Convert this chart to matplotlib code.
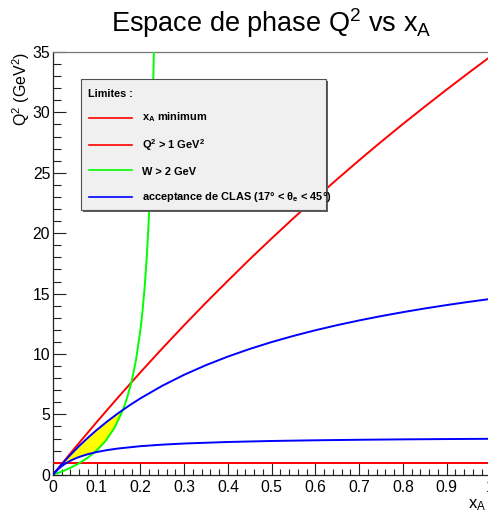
import numpy as np
import matplotlib
matplotlib.use("Agg")
import matplotlib.pyplot as plt
from matplotlib.patches import Rectangle
from matplotlib.lines import Line2D

plt.rcParams['font.family'] = ['Liberation Sans', 'DejaVu Sans']
plt.rcParams['mathtext.fontset'] = 'custom'
plt.rcParams['mathtext.rm'] = 'Liberation Sans'
plt.rcParams['mathtext.bf'] = 'Liberation Sans:bold'
plt.rcParams['mathtext.default'] = 'regular'

# ---- data ----
# x_A minimum (red)
xmin_x = [0, 0.01, 0.02, 0.05, 0.10, 0.15, 0.20, 0.25, 0.30, 0.35, 0.40, 0.45, 0.50,
          0.55, 0.60, 0.65, 0.70, 0.75, 0.80, 0.85, 0.90, 0.95, 1.00]
xmin_q2 = [0, 0.45, 0.90, 2.22, 4.37, 6.46, 8.49, 10.47, 12.39, 14.26, 16.07, 17.85, 19.57,
           21.25, 22.89, 24.48, 26.04, 27.56, 29.04, 30.48, 31.89, 33.27, 34.62]
# Q2 > 1 GeV2 (red horizontal)
q2cut_x = [0, 1.0]
q2cut_q2 = [1.0, 1.0]
# W > 2 GeV (green)
w_x = [0, 0.02, 0.04, 0.06, 0.08, 0.10, 0.12, 0.14, 0.16, 0.17, 0.18, 0.19, 0.20,
       0.205, 0.21, 0.215, 0.22, 0.225, 0.23, 0.2306]
w_q2 = [0, 0.264, 0.579, 0.960, 1.43, 2.02, 2.80, 3.86, 5.38, 6.44, 7.77, 9.55, 12.03,
        13.68, 15.74, 18.37, 21.86, 26.70, 33.89, 35.0]
# CLAS acceptance, theta = 45 deg (blue upper)
hi_x = [0, 0.005, 0.01, 0.02, 0.03, 0.04, 0.06, 0.08, 0.10, 0.125, 0.15, 0.175, 0.20,
        0.25, 0.30, 0.35, 0.40, 0.45, 0.50, 0.55, 0.60, 0.65, 0.70, 0.75, 0.80, 0.85,
        0.90, 0.95, 1.00]
hi_q2 = [0, 0.222, 0.439, 0.861, 1.266, 1.655, 2.391, 3.074, 3.711, 4.447, 5.125, 5.752,
         6.332, 7.373, 8.282, 9.081, 9.789, 10.421, 10.989, 11.501, 11.967, 12.391,
         12.779, 13.136, 13.465, 13.769, 14.051, 14.313, 14.558]
# CLAS acceptance, theta = 17 deg (blue lower)
lo_x = [0, 0.005, 0.01, 0.02, 0.03, 0.04, 0.05, 0.06, 0.08, 0.10, 0.125, 0.15, 0.20,
        0.25, 0.30, 0.40, 0.50, 0.60, 0.70, 0.80, 0.90, 1.00]
lo_q2 = [0, 0.215, 0.403, 0.716, 0.965, 1.169, 1.339, 1.482, 1.711, 1.885, 2.053, 2.182,
         2.369, 2.497, 2.590, 2.717, 2.800, 2.857, 2.900, 2.933, 2.959, 2.980]

xticks = [0, 0.1, 0.2, 0.3, 0.4, 0.5, 0.6, 0.7, 0.8, 0.9, 1.0]
xtick_labels = ["0", "0.1", "0.2", "0.3", "0.4", "0.5", "0.6", "0.7", "0.8", "0.9", "1"]
yticks = [0, 5, 10, 15, 20, 25, 30, 35]
ytick_labels = ["0", "5", "10", "15", "20", "25", "30", "35"]

legend_labels = ["x$_{A}$ minimum", "Q$^{2}$ > 1 GeV$^{2}$", "W > 2 GeV",
                 "acceptance de CLAS (17° < θ$_{e}$ < 45°)"]
legend_colors = ["#ff0000", "#ff0000", "#00ff00", "#0000ff"]

W, H = 489, 516
fig = plt.figure(figsize=(W / 100, H / 100), dpi=100)
ax = fig.add_axes([53 / W, 41.2 / H, 437.4 / W, 422.8 / H])
ax.set_xlim(0, 1)
ax.set_ylim(0, 35)

# yellow allowed region
xs = np.linspace(0, 0.2, 800)
up = np.interp(xs, hi_x, hi_q2)
low = np.maximum(np.maximum(np.interp(xs, lo_x, lo_q2), np.interp(xs, w_x, w_q2)), 1.0)
ax.fill_between(xs, low, up, where=up > low, color="#ffff00", lw=0, zorder=1)

lw = 1.4
ax.plot(xmin_x, xmin_q2, color="#ff0000", lw=lw, zorder=3)
ax.plot(q2cut_x, q2cut_q2, color="#ff0000", lw=lw, zorder=3)
ax.plot(w_x, w_q2, color="#00ff00", lw=lw, zorder=3)
ax.plot(hi_x, hi_q2, color="#0000ff", lw=lw, zorder=3)
ax.plot(lo_x, lo_q2, color="#0000ff", lw=lw, zorder=3)

ax.set_xticks(xticks)
ax.set_xticklabels(xtick_labels)
ax.set_yticks(yticks)
ax.set_yticklabels(ytick_labels)
ax.set_xticks(np.arange(0, 1.0001, 0.02), minor=True)
ax.set_yticks(np.arange(0, 35.001, 1), minor=True)
ax.tick_params(axis='both', which='both', direction='in', top=False, right=False,
               width=0.8, color='#222222', labelsize=11.3)
ax.tick_params(axis='x', which='major', length=9, pad=4)
ax.tick_params(axis='x', which='minor', length=4.5)
ax.tick_params(axis='y', which='major', length=9.5, pad=2)
ax.tick_params(axis='y', which='minor', length=5.5)
for s in ['left', 'bottom']:
    ax.spines[s].set_linewidth(0.9)
    ax.spines[s].set_color('#222222')
ax.spines['top'].set_color('#777777')
ax.spines['top'].set_linewidth(0.9)
ax.spines['right'].set_visible(False)

# title and axis labels
fig.text(271.5 / W, 1 - 32 / H, "Espace de phase Q$^{2}$ vs x$_{A}$",
         ha='center', va='baseline', fontsize=19.5)
fig.text(21.5 / W, 1 - 52 / H, "Q$^{2}$ (GeV$^{2}$)", rotation=90,
         ha='center', va='top', fontsize=11.5)
fig.text(486.5 / W, 1 - 508 / H, "x$_{A}$", ha='right', va='baseline', fontsize=12)

# legend box
lx0, ly0, lx1, ly1 = 81, 79, 326, 210
fig.add_artist(Rectangle(((lx0 + 2) / W, 1 - (ly1 + 2) / H), (lx1 - lx0) / W, (ly1 - ly0) / H,
                         transform=fig.transFigure, facecolor='#606060', edgecolor='none',
                         zorder=10))
fig.add_artist(Rectangle((lx0 / W, 1 - ly1 / H), (lx1 - lx0) / W, (ly1 - ly0) / H,
                         transform=fig.transFigure, facecolor='#f0f0f0', edgecolor='#505050',
                         lw=0.8, zorder=11))
fig.text(87.7 / W, 1 - 97.3 / H, "Limites :", ha='left', va='baseline',
         fontsize=7.8, fontweight='bold', zorder=12)
line_y = [117.7, 145, 170.5, 196.7]
text_y = [120.7, 149.3, 175.3, 200.2]
for lab, col, ly, ty in zip(legend_labels, legend_colors, line_y, text_y):
    fig.add_artist(Line2D([89 / W, 132 / W], [1 - ly / H, 1 - ly / H], color=col, lw=1.2,
                          transform=fig.transFigure, zorder=12))
    fig.text(141.7 / W, 1 - ty / H, lab, ha='left', va='baseline', fontsize=7.9,
             fontweight='bold', zorder=12)

fig.savefig("out.png", dpi=100)
